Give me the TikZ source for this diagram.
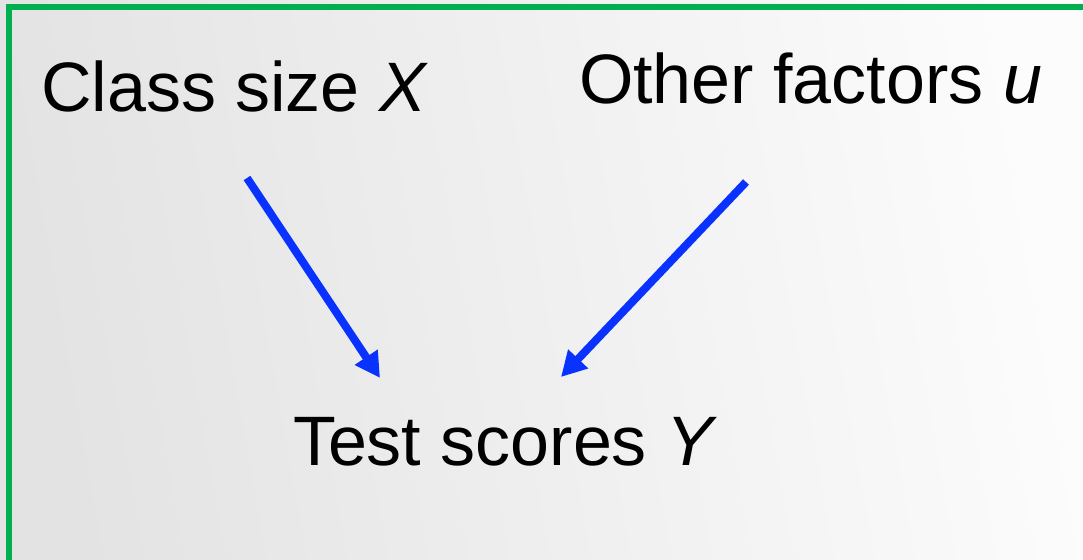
\documentclass[tikz,border=0pt]{standalone}
\usepackage{fontspec}
\setmainfont{Liberation Sans}
\usetikzlibrary{arrows.meta}
\definecolor{framegreen}{HTML}{00B050}
\definecolor{arrowblue}{HTML}{0A32FF}
\definecolor{bgleft}{HTML}{E3E3E3}
\definecolor{bgright}{HTML}{FCFCFC}
\tikzset{
  lbl/.style={anchor=base west, inner sep=0pt, outer sep=0pt, font=\fontsize{70}{80}\selectfont, text=black},
  conn/.style={draw=arrowblue, line width=8pt, -{Triangle[length=25pt,width=26pt]}}
}
\begin{document}
\begin{tikzpicture}[x=1pt,y=-1pt]
\useasboundingbox (0,0) rectangle (1083,559);
\shade[left color=bgleft, right color=bgright, shading angle=100] (0,0) rectangle (1083,559);
\draw[framegreen, line width=6pt] (8.5,570) -- (8.5,7.5) -- (1090,7.5);
\node[lbl] (cls) at (41,112) {Class size \textit{X}};
\node[lbl] (oth) at (579,103.5) {Other factors \textit{u}};
\node[lbl] (tst) at (293,465.5) {Test scores \textit{Y}};
\coordinate (s1) at (247,178);
\coordinate (e1) at (380,378);
\coordinate (s2) at (746,182);
\coordinate (e2) at (561,377);
\draw[conn] (s1) -- (e1);
\draw[conn] (s2) -- (e2);
\end{tikzpicture}
\end{document}
